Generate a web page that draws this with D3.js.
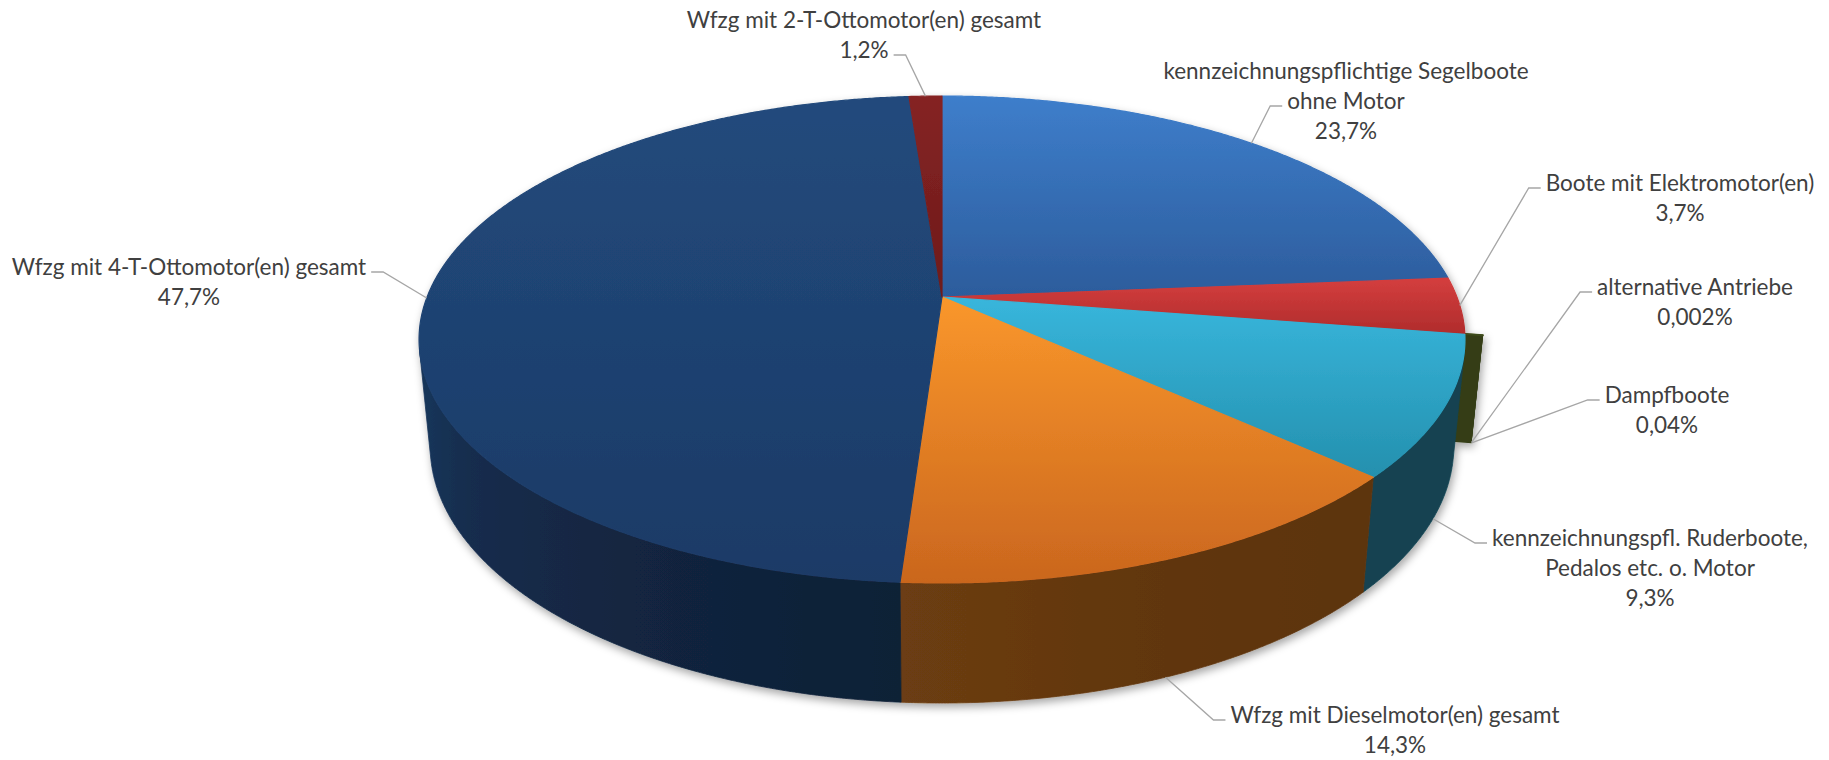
<!DOCTYPE html>
<html>
<head>
<meta charset="utf-8">
<script src="https://cdn.jsdelivr.net/npm/d3@7"></script>
<style>
  html, body { margin: 0; padding: 0; background: #fff; }
  svg { display: block; }
  .pie-label { font-family: Lato, "Open Sans", sans-serif; font-size: 22.5px; fill: #404040; }
  .pie-leader { fill: none; stroke: #a6a6a6; stroke-width: 1.3; }
</style>
</head>
<body>
<div id="chart"></div>
<script>
// data
const categories = [
  "kennzeichnungspflichtige Segelboote ohne Motor",
  "Boote mit Elektromotor(en)",
  "alternative Antriebe",
  "Dampfboote",
  "kennzeichnungspfl. Ruderboote, Pedalos etc. o. Motor",
  "Wfzg mit Dieselmotor(en) gesamt",
  "Wfzg mit 4-T-Ottomotor(en) gesamt",
  "Wfzg mit 2-T-Ottomotor(en) gesamt"
];
const values = [23.7, 3.7, 0.002, 0.04, 9.3, 14.3, 47.7, 1.2];
const valueLabels = ["23,7%", "3,7%", "0,002%", "0,04%", "9,3%", "14,3%", "47,7%", "1,2%"];
const labelLines = [
  ["kennzeichnungspflichtige Segelboote", "ohne Motor"],
  ["Boote mit Elektromotor(en)"],
  ["alternative Antriebe"],
  ["Dampfboote"],
  ["kennzeichnungspfl. Ruderboote,", "Pedalos etc. o. Motor"],
  ["Wfzg mit Dieselmotor(en) gesamt"],
  ["Wfzg mit 4-T-Ottomotor(en) gesamt"],
  ["Wfzg mit 2-T-Ottomotor(en) gesamt"]
];

// styles
const topColors = [
  ["#3e7ecb", "#2c5c9c"],
  ["#d43e3e", "#b02c2c"],
  ["#5b6b2a", "#4a5822"],
  ["#4e5c22", "#3d4a1a"],
  ["#38b6dc", "#2490ae"],
  ["#fa972b", "#ca661e"],
  ["#224a7c", "#1b3a66"],
  ["#852323", "#6e1b1b"]
];
const cutColor = "#343e16";
const explode = [0, 0, 0.034, 0.034, 0, 0, 0, 0];

// layout
const width = 1829, height = 760;
const view = {cx: 942, cy: 297, F: 2622, D: 5.092, tilt: Math.asin(0.4584), depth: 0.2353};
const labelAt = [[1346, 71], [1680, 183], [1695, 287], [1667, 395], [1650, 538], [1395, 715], [189, 267], [864, 20]];
const lineH = 30;

const ct = Math.cos(view.tilt), st = Math.sin(view.tilt);

// u: right, w: towards viewer, h: up (disk radius = 1)
function proj(u, w, h) {
  const yUp = h * ct - w * st;
  const z = view.D - w * ct - h * st;
  return [view.cx + view.F * u / z, view.cy - view.F * yUp / z];
}
// angle measured from 12 o'clock, clockwise (as d3.pie gives it)
function onRim(a, h, off, r = 1) {
  return proj(off[0] + r * Math.sin(a), off[1] - r * Math.cos(a), h);
}
function arcPts(a0, a1, h, off) {
  const n = Math.max(2, Math.ceil((a1 - a0) / 0.005));
  return d3.range(n + 1).map(k => onRim(a0 + (a1 - a0) * k / n, h, off));
}
function shade(a) {
  const t = Math.max(0, (a * 180 / Math.PI - 130) / 140);
  return 0.41 + 0.46 * t * t;
}
function scaleColor(c, f) {
  const col = d3.rgb(c);
  return d3.rgb(col.r * f, col.g * f, col.b * f).formatHex();
}

const pie = d3.pie().sort(null).value(d => d).startAngle(0).endAngle(2 * Math.PI);
const arcs = pie(values);
const line = d3.line();

// outer wall faces the camera only in this angle window
const visA = Math.acos(-1 / (view.D * ct));
const visB = 2 * Math.PI - visA;

const svg = d3.select("#chart").append("svg")
  .attr("width", width)
  .attr("height", height)
  .attr("viewBox", `0 0 ${width} ${height}`);

const defs = svg.append("defs");
const shadow = defs.append("filter").attr("id", "shadow")
  .attr("x", "-10%").attr("y", "-10%").attr("width", "120%").attr("height", "130%");
shadow.append("feDropShadow")
  .attr("dx", 2).attr("dy", 4).attr("stdDeviation", 4)
  .attr("flood-color", "#000").attr("flood-opacity", 0.35);

arcs.forEach((d, i) => {
  const gr = defs.append("linearGradient").attr("id", "top-" + i)
    .attr("x1", 0).attr("y1", 0).attr("x2", 0).attr("y2", 1);
  gr.append("stop").attr("offset", 0).attr("stop-color", topColors[i][0]);
  gr.append("stop").attr("offset", 1).attr("stop-color", topColors[i][1]);
});

const g = svg.append("g").attr("class", "pie3d").attr("filter", "url(#shadow)");

function offsetOf(d, i) {
  const m = (d.startAngle + d.endAngle) / 2;
  return [explode[i] * Math.sin(m), -explode[i] * Math.cos(m)];
}

function drawWall(d, i, off) {
  const a0 = Math.max(d.startAngle, visA), a1 = Math.min(d.endAngle, visB);
  if (a1 <= a0) return;
  const top = arcPts(a0, a1, 0, off);
  const bot = arcPts(a0, a1, -view.depth, off).reverse();
  const x1 = onRim(a0, -view.depth, off)[0], x2 = onRim(a1, -view.depth, off)[0];
  const base = d3.interpolateRgb(topColors[i][0], topColors[i][1])(0.5);
  const gr = defs.append("linearGradient").attr("id", "side-" + i)
    .attr("gradientUnits", "userSpaceOnUse")
    .attr("x1", x1).attr("y1", 0).attr("x2", x2).attr("y2", 0);
  d3.range(9).forEach(k => {
    const a = a0 + (a1 - a0) * k / 8;
    const x = onRim(a, -view.depth, off)[0];
    gr.append("stop")
      .attr("offset", Math.abs(x2 - x1) < 1e-6 ? 0 : (x - x1) / (x2 - x1))
      .attr("stop-color", scaleColor(base, shade(a)));
  });
  g.append("path")
    .attr("class", "pie-wall")
    .attr("d", line(top.concat(bot)) + "Z")
    .attr("fill", `url(#side-${i})`)
    .attr("stroke", `url(#side-${i})`)
    .attr("stroke-width", 0.8);
}

function drawCut(a, off) {
  const c0 = proj(off[0], off[1], 0), c1 = proj(off[0], off[1], -view.depth);
  const r0 = onRim(a, 0, off), r1 = onRim(a, -view.depth, off);
  g.append("path")
    .attr("class", "pie-cut")
    .attr("d", line([c0, r0, r1, c1]) + "Z")
    .attr("fill", cutColor);
}

function drawTop(d, i, off) {
  const pts = [proj(off[0], off[1], 0)].concat(arcPts(d.startAngle, d.endAngle, 0, off));
  g.append("path")
    .attr("class", "pie-top")
    .attr("d", line(pts) + "Z")
    .attr("fill", `url(#top-${i})`)
    .attr("stroke", `url(#top-${i})`)
    .attr("stroke-width", 1.2)
    .attr("stroke-linejoin", "round");
}

// exploded tiny slices sit behind the body of the pie
arcs.forEach((d, i) => {
  if (!explode[i]) return;
  const off = offsetOf(d, i);
  drawWall(d, i, off);
  drawCut(d.startAngle, off);
  drawCut(d.endAngle, off);
  drawTop(d, i, off);
});
arcs.forEach((d, i) => { if (!explode[i]) drawWall(d, i, [0, 0]); });
arcs.forEach((d, i) => { if (!explode[i]) drawTop(d, i, [0, 0]); });

// labels + leader lines
const labels = svg.append("g").attr("class", "labels");
arcs.forEach((d, i) => {
  const lines = labelLines[i].concat([valueLabels[i]]);
  const [lx, ly] = labelAt[i];
  const texts = lines.map((s, k) => labels.append("text")
    .attr("class", "pie-label")
    .attr("x", lx)
    .attr("y", ly + k * lineH)
    .attr("dy", "0.35em")
    .attr("text-anchor", "middle")
    .text(s));

  const off = offsetOf(d, i);
  const m = (d.startAngle + d.endAngle) / 2;
  const wMid = off[1] - Math.cos(m);
  const anchor = onRim(m, wMid > 0.1 ? -view.depth : 0, off);
  const leftSide = anchor[0] < lx;

  let best = null;
  texts.forEach((t, k) => {
    const len = t.node().getComputedTextLength();
    const x = leftSide ? lx - len / 2 - 5 : lx + len / 2 + 5;
    const y = ly + k * lineH + 5;
    const dist = Math.hypot(x - anchor[0], y - anchor[1]);
    if (!best || dist < best.dist) best = {x, y, dist};
  });
  const elbow = [best.x + (leftSide ? -12 : 12), best.y];
  labels.append("path")
    .attr("class", "pie-leader")
    .attr("d", line([[best.x, best.y], elbow, anchor]));
});
</script>
</body>
</html>
